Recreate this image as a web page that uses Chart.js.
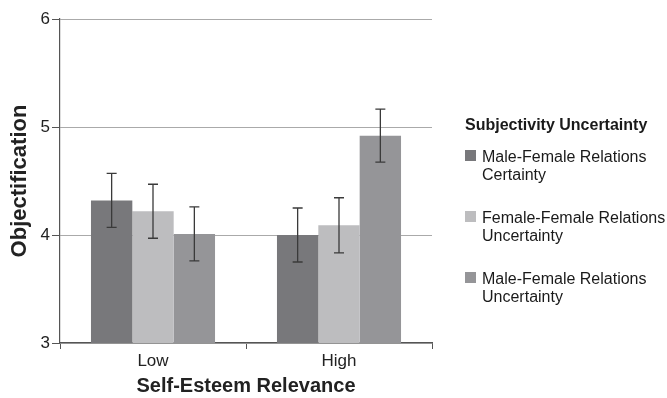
<!DOCTYPE html>
<html>
<head>
<meta charset="utf-8">
<script src="https://cdn.jsdelivr.net/npm/chart.js@4"></script>
<style>
  html, body { margin: 0; padding: 0; background: #fff; }
  #wrap { width: 667px; height: 398px; }
</style>
</head>
<body>
<div id="wrap"><canvas id="chart" width="667" height="398"></canvas></div>
<script>
const categories = ["Low", "High"];
const seriesNames = [
  ["Male-Female Relations", "Certainty"],
  ["Female-Female Relations", "Uncertainty"],
  ["Male-Female Relations", "Uncertainty"]
];
const mfCertainty = [4.32, 4.00];
const ffUncertainty = [4.22, 4.09];
const mfUncertainty = [4.01, 4.92];
const errMfCertainty = [0.25, 0.25];
const errFfUncertainty = [0.25, 0.255];
const errMfUncertainty = [0.25, 0.245];
const yTicks = [3, 4, 5, 6];
const legendTitle = "Subjectivity Uncertainty";

const colors = ["#78787b", "#bdbdbf", "#959598"];
const errors = [errMfCertainty, errFfUncertainty, errMfUncertainty];
const fontFamily = "'Liberation Sans', Arial, sans-serif";

// error bars drawn over the bars
const errorBars = {
  id: "errorBars",
  afterDatasetsDraw(chart) {
    const ctx = chart.ctx;
    const y = chart.scales.y;
    ctx.save();
    ctx.strokeStyle = "#3a3a3a";
    ctx.lineWidth = 1.3;
    chart.data.datasets.forEach((ds, i) => {
      chart.getDatasetMeta(i).data.forEach((bar, j) => {
        const v = ds.data[j], e = errors[i][j];
        const top = y.getPixelForValue(v + e);
        const bot = y.getPixelForValue(v - e);
        ctx.beginPath();
        ctx.moveTo(bar.x, top); ctx.lineTo(bar.x, bot);
        ctx.moveTo(bar.x - 5, top); ctx.lineTo(bar.x + 5, top);
        ctx.moveTo(bar.x - 5, bot); ctx.lineTo(bar.x + 5, bot);
        ctx.stroke();
      });
    });
    ctx.restore();
  }
};

// legend on the right with a title and two-line labels
const sideLegend = {
  id: "sideLegend",
  afterDraw(chart) {
    const ctx = chart.ctx;
    const x0 = 465;
    ctx.save();
    ctx.fillStyle = "#1a1a1a";
    ctx.textBaseline = "alphabetic";
    ctx.font = "bold 16px " + fontFamily;
    ctx.fillText(legendTitle, x0, 130);
    ctx.font = "16px " + fontFamily;
    chart.data.datasets.forEach((ds, i) => {
      const top = 150 + i * 61;
      ctx.fillStyle = colors[i];
      ctx.fillRect(x0, top, 11, 11);
      ctx.fillStyle = "#1a1a1a";
      seriesNames[i].forEach((line, k) => {
        ctx.fillText(line, x0 + 17, top + 12 + k * 18);
      });
    });
    ctx.restore();
  }
};

new Chart(document.getElementById("chart"), {
  type: "bar",
  data: {
    labels: categories,
    datasets: seriesNames.map((n, i) => ({
      label: n.join(" "),
      data: [mfCertainty, ffUncertainty, mfUncertainty][i],
      backgroundColor: colors[i],
      borderWidth: 0,
      categoryPercentage: 0.667,
      barPercentage: 1.0
    }))
  },
  options: {
    responsive: false,
    animation: false,
    layout: { padding: { top: 19, right: 235, left: 0, bottom: 0 } },
    plugins: { legend: { display: false }, tooltip: { enabled: false } },
    scales: {
      x: {
        afterFit(s) { s.height = 55; },
        border: { color: "#555", width: 1.2 },
        grid: { offset: true, drawOnChartArea: false, drawTicks: true, tickLength: 6, tickColor: "#555" },
        ticks: { color: "#222", font: { family: fontFamily, size: 17 }, padding: 2 },
        title: {
          display: true, text: "Self-Esteem Relevance", color: "#222",
          font: { family: fontFamily, size: 20, weight: "bold" }, padding: { top: 3, bottom: 0 }
        }
      },
      y: {
        min: 3, max: 6,
        afterFit(s) { s.width = 60; },
        afterBuildTicks(s) { s.ticks = yTicks.map(v => ({ value: v })); },
        border: { color: "#555", width: 1.2 },
        grid: { color: "#aaa", lineWidth: 1, tickColor: "#555", tickLength: 8 },
        ticks: { color: "#222", font: { family: fontFamily, size: 17 }, padding: 2 },
        title: {
          display: true, text: "Objectification", color: "#222",
          font: { family: fontFamily, size: 22, weight: "bold" }, padding: { top: 7, bottom: 0 }
        }
      }
    }
  },
  plugins: [errorBars, sideLegend]
});
</script>
</body>
</html>
